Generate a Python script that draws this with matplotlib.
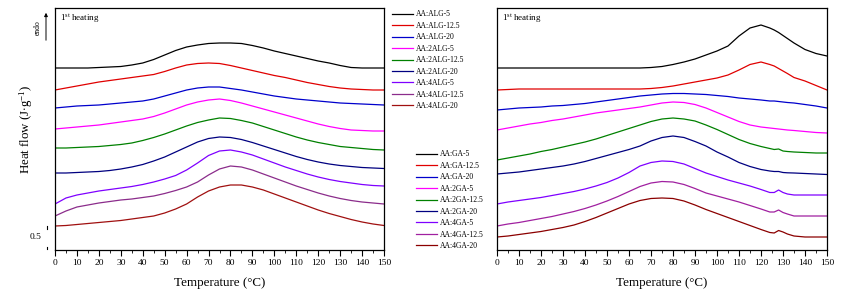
import numpy as np
import matplotlib
matplotlib.use("Agg")
import matplotlib.pyplot as plt
from matplotlib.ticker import MultipleLocator
import matplotlib.transforms as mtransforms

plt.rcParams['font.family'] = ['Liberation Serif', 'DejaVu Serif']
plt.rcParams['mathtext.fontset'] = 'custom'
plt.rcParams['mathtext.rm'] = 'Liberation Serif'
plt.rcParams['mathtext.it'] = 'Liberation Serif:italic'

# ---------------- data (heat flow, arbitrary offset units; scale bar 23 units = 0.5 J/g) -------------
temp_left = list(range(0, 151, 5))
labels_left = ["AA:ALG-5", "AA:ALG-12.5", "AA:ALG-20", "AA:2ALG-5", "AA:2ALG-12.5",
               "AA:2ALG-20", "AA:4ALG-5", "AA:4ALG-12.5", "AA:4ALG-20"]
alg_5 = [182,182,182,182,182.5,183,183.5,185,187,190.5,195,199.5,203,205,206.5,207,207,206.5,204.5,202,199,196.5,194,191.5,189,187,184.5,182.5,182,182,182]
alg_12 = [160,162,164,166,168,169.5,171,172.5,174,175.5,178.5,182,185,186.5,187,186.5,184.5,182,179.5,177,174.5,172.5,170,167.5,165.5,163.5,162,161,160.5,160,160]
alg_20 = [142,143,144,144.5,145,146,147,148,149,151,154,157,160,162,163,163,161.5,160,158,156,154,152.5,151,150,149,148,147,146.5,146,145.5,145]
alg2_5 = [121,122,123,124,125,126.5,128,129.5,131,133.5,137,141,145,148,150,151,149.5,147,144,141,138,135,132,129,126,123.5,121.5,120,119.5,119,119]
alg2_12 = [102,102,102.5,103,103.5,104.5,105.5,107,109.5,112.5,116,120,124,127.5,130,132,131.5,129.5,127,123.5,120,116.5,113,110,107.5,105.5,103.5,102.5,101.5,100.5,100]
alg2_20 = [77,77,77.5,78,78.5,79.5,81,83,85.5,89,93,98,103,108,111.5,113,112.5,110.5,107.5,104,100.5,97,93.5,90.5,88,86,84.5,83.5,82.5,82,81.5]
alg4_5 = [46,52,55,57,59,60.5,62,63.5,65.5,68,71,74.5,80,87,94.5,99,100,98,95,91,87,83,79.5,76,73,70.5,68.5,67,65.5,64.5,64]
alg4_12 = [34,39,43,45,47,48.5,50,51,52.5,54,56.5,59.5,63,68,75,81,84,83,80,76,72,68,64,60.5,57,54,51.5,49.5,48,47,46]
alg4_20 = [24,24.5,25.5,26.5,27.5,28.5,29.5,31,32.5,34,37,41,46,53,59,63,65,65,63,60,56,52,48,44,40,36.5,33.5,30.5,28,26,24.5]
series_left = [alg_5, alg_12, alg_20, alg2_5, alg2_12, alg2_20, alg4_5, alg4_12, alg4_20]

temp_right = list(range(0, 121, 5)) + [124, 126, 128, 130, 132, 135, 140, 145, 150]
labels_right = ["AA:GA-5", "AA:GA-12.5", "AA:GA-20", "AA:2GA-5", "AA:2GA-12.5",
                "AA:2GA-20", "AA:4GA-5", "AA:4GA-12.5", "AA:4GA-20"]
ga_5 = [182]*14 + [182.5,183.5,185.5,188,191,195,199,204,214,222,225, 222,220,217.5,214.5,211.5,207,200.5,196.5,194]
ga_12 = [160,160.5] + [161]*12 + [161.5,162.5,164,166,168,170,172,175,180,185.5,188, 185.5,184,181.5,179,176.5,172.5,169,164.5,160]
ga_20 = [140,141,142,142.5,143,144,144.5,145.5,146.5,148,149.5,151,152.5,154,155,156,156.5,156.5,156,155.5,154.5,153.5,152,151,150, 149,149,148.5,148,147.5,147,145.5,144,142]
ga2_5 = [120,122,124,126,127.5,129.5,131,133,135,137,138.5,140,141.5,143,145,147,148,147.5,145.5,142,137.5,133,128.5,125,123, 122,121.5,121,120.5,120,119.5,118.5,117.5,117]
ga2_12 = [90,92,94,96,98.5,100.5,103,105.5,108,111,114.5,118,121.5,125,128.5,131,132,131,129,125,120.5,115.5,110.5,106.5,103.5, 101.5,100.5,101,99,98.5,98,97.5,97,97]
ga2_20 = [76,77,78,79.5,81,82.5,84,86,88.5,91.5,94.5,97.5,100.5,104,109,112.5,114,112.5,108.5,104,98,93,87.5,83.5,80.5, 79,78.5,78.5,77.5,77.2,77,76.5,76,75.5]
ga4_5 = [46,48,49.5,51,52.5,54.5,56.5,58.5,61,64,67.5,72,77.5,84,87.5,89,88.5,86,81.5,77,73.5,70,67,64,60.5, 57.5,57.5,60,57.5,56,55,55,55,55]
ga4_12 = [24,26,27.5,29.5,31.5,33.5,36,38.5,41.5,45,49,53.5,58.5,63.5,67,68.5,68,65.5,61.5,57,54,51,48,44.5,41, 38,38,40,37.5,36,34,34,34,34]
ga4_20 = [13,14,15.5,17,18.5,20.5,22.5,25,28.5,32.5,37,41.5,46,49.5,51.5,52,51.5,49,45,40.5,36.5,32.5,28.5,24.5,20.5, 17.5,17,19.5,18,16,14,13,13,13]
series_right = [ga_5, ga_12, ga_20, ga2_5, ga2_12, ga2_20, ga4_5, ga4_12, ga4_20]

colors_left = ['#000000', '#E00000', '#0000CC', '#FF00FF', '#008000', '#000080', '#7F00FF', '#8B2C8B', '#A01010']
colors_right = ['#000000', '#E00000', '#0000CC', '#FF00FF', '#008000', '#000080', '#7F00FF', '#A020A0', '#8B0000']

# ---------------- figure ----------------
W, H = 841, 298
fig = plt.figure(figsize=(W/100, H/100), dpi=100)

def px_box(x0, x1, ytop, ybot):
    return [x0/W, 1-ybot/H, (x1-x0)/W, (ybot-ytop)/H]

axL = fig.add_axes(px_box(55, 384, 8, 250))
axR = fig.add_axes(px_box(497, 827, 8, 250))

def style(ax):
    ax.set_xlim(0, 150)
    ax.set_ylim(0, 242)
    ax.xaxis.set_major_locator(MultipleLocator(10))
    ax.xaxis.set_minor_locator(MultipleLocator(5))
    ax.tick_params(axis='x', which='major', direction='out', length=4, width=0.8, labelsize=6.8, pad=2.5)
    ax.tick_params(axis='x', which='minor', direction='out', length=2, width=0.6)
    ax.tick_params(axis='y', which='both', left=False, labelleft=False)
    for s in ax.spines.values():
        s.set_linewidth(0.9)
    ax.set_xlabel('Temperature (°C)', fontsize=9.4, labelpad=7)
    ax.text(0.015, 0.955, '1$^{\\rm st}$ heating', transform=ax.transAxes, fontsize=6.5,
            ha='left', va='center')

style(axL)
style(axR)

hl = []
for vals, c, lab in zip(series_left, colors_left, labels_left):
    l, = axL.plot(temp_left, vals, color=c, lw=0.9, label=lab)
    hl.append(l)
hr = []
for vals, c, lab in zip(series_right, colors_right, labels_right):
    l, = axR.plot(temp_right, vals, color=c, lw=0.9, label=lab)
    hr.append(l)

leg_kw = dict(loc='upper left', frameon=False, fontsize=5.5, borderpad=0, borderaxespad=0,
              handlelength=2.8, handletextpad=0.3, labelspacing=0.45)
fig.legend(handles=hl, bbox_to_anchor=(392/W, 1-10.5/H), **leg_kw)
fig.legend(handles=hr, bbox_to_anchor=(416/W, 1-150.5/H), **leg_kw)

# y label, endo arrow, scale bar
fig.text(26/W, 1-129/H, 'Heat flow (J$\\cdot$g$^{-1}$)', rotation=90, fontsize=9.3,
         ha='center', va='center')
trans = mtransforms.blended_transform_factory(fig.transFigure, axL.transData)
axL.annotate('', xy=(46/W, 240), xytext=(46/W, 207), xycoords=trans, textcoords=trans,
             arrowprops=dict(arrowstyle='-|>', lw=0.7, color='black', mutation_scale=5),
             annotation_clip=False)
fig.text(38/W, 1-28/H, 'endo', rotation=90, fontsize=5.5, ha='center', va='center')
scale_lo, scale_len = 1, 23
axL.plot([47/W, 47/W], [scale_lo + scale_len - 2.5, scale_lo + scale_len], transform=trans,
         color='black', lw=0.8, clip_on=False)
axL.plot([47/W, 47/W], [scale_lo, scale_lo + 2.5], transform=trans,
         color='black', lw=0.8, clip_on=False)
fig.text(36/W, 1-237/H, '0.5', fontsize=6.8, ha='center', va='center')

fig.savefig('out.png', dpi=100)
